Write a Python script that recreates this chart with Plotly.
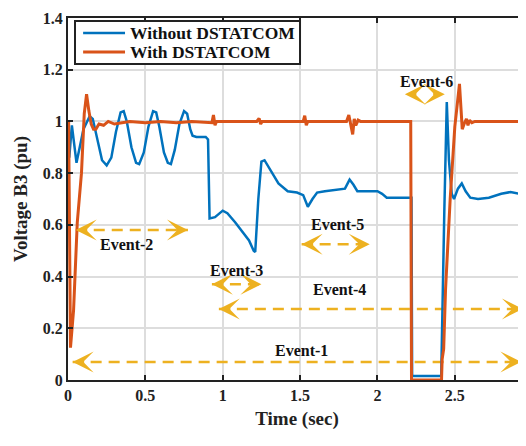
import plotly.graph_objects as go

# ---------------- data ----------------
t_without = [0.0, 0.008, 0.025, 0.055, 0.1, 0.14, 0.16, 0.19, 0.22, 0.25, 0.28, 0.31, 0.34, 0.36,
             0.38, 0.41, 0.44, 0.46, 0.49, 0.52, 0.55, 0.57, 0.59, 0.62, 0.645, 0.665, 0.69, 0.72,
             0.75, 0.77, 0.79, 0.805, 0.83, 0.89, 0.905, 0.915, 0.95, 1.0, 1.03, 1.08, 1.13, 1.17,
             1.2, 1.21, 1.23, 1.25, 1.27, 1.31, 1.36, 1.42, 1.48, 1.52, 1.55, 1.58, 1.61, 1.66,
             1.72, 1.79, 1.82, 1.845, 1.87, 2.0, 2.03, 2.06, 2.22, 2.224, 2.412, 2.42, 2.432,
             2.448, 2.462, 2.48, 2.495, 2.52, 2.545, 2.57, 2.6, 2.65, 2.72, 2.8, 2.86, 2.96]
v_without = [0.9, 0.86, 0.985, 0.84, 0.97, 1.02, 1.01, 0.93, 0.85, 0.83, 0.86, 0.96, 1.035, 1.04,
             1.0, 0.9, 0.84, 0.835, 0.88, 0.98, 1.04, 1.035, 0.98, 0.88, 0.84, 0.835, 0.89, 0.99,
             1.04, 1.03, 0.97, 0.945, 0.94, 0.94, 0.93, 0.625, 0.63, 0.655, 0.645, 0.61, 0.57, 0.54,
             0.5, 0.495, 0.7, 0.845, 0.85, 0.81, 0.76, 0.73, 0.725, 0.715, 0.67, 0.7, 0.725, 0.73,
             0.735, 0.74, 0.775, 0.755, 0.73, 0.73, 0.72, 0.705, 0.705, 0.015, 0.015, 0.35, 0.65,
             1.075, 0.85, 0.72, 0.7, 0.74, 0.76, 0.73, 0.705, 0.7, 0.705, 0.72, 0.727, 0.715]

t_with = [0.0, 0.004, 0.016, 0.036, 0.06, 0.087, 0.105, 0.12, 0.135, 0.15, 0.165, 0.18, 0.2,
          0.23, 0.26, 0.3, 0.4, 0.5, 0.6, 0.7, 0.8, 0.93, 0.94, 0.95, 0.96, 1.22, 1.235, 1.245,
          1.255, 1.52, 1.53, 1.54, 1.55, 1.8, 1.815, 1.83, 1.84, 1.85, 1.86, 1.875, 1.89, 2.215,
          2.22, 2.414, 2.418, 2.428, 2.44, 2.47, 2.5, 2.53, 2.548, 2.56, 2.575, 2.585, 2.595,
          2.61, 2.63, 2.96]
v_with = [1.0, 1.0, 0.125, 0.27, 0.61, 0.8, 1.03, 1.105, 1.04, 0.99, 0.97, 0.97, 0.99,
          0.985, 1.0, 0.99, 1.0, 0.995, 1.0, 0.995, 1.0, 0.995, 1.025, 0.985, 1.0, 1.0, 1.012, 0.99,
          1.0, 1.0, 1.022, 0.985, 1.0, 1.0, 1.025, 0.985, 0.95, 1.01, 0.985, 1.005, 1.0, 1.0,
          0.0, 0.0, 0.08, 0.12, 0.35, 0.7, 0.98, 1.145, 0.97, 0.99, 1.01, 0.985, 1.005,
          0.995, 1.0, 1.0]

series_names = ["Without DSTATCOM", "With DSTATCOM"]

event_labels = ["Event-1", "Event-2", "Event-3", "Event-4", "Event-5", "Event-6"]
event_start = [0.03, 0.05, 0.93, 0.975, 1.51, 2.177]
event_end = [2.93, 0.775, 1.25, 2.94, 1.95, 2.435]
event_level = [0.07, 0.58, 0.37, 0.275, 0.525, 1.105]
event_label_x = [1.51, 0.38, 1.09, 1.757, 1.743, 2.32]
event_label_y = [0.115, 0.523, 0.424, 0.351, 0.603, 1.156]

x_tick_vals = [0, 0.5, 1, 1.5, 2, 2.5]
x_tick_text = ["0", "0.5", "1", "1.5", "2", "2.5"]
y_tick_vals = [0, 0.2, 0.4, 0.6, 0.8, 1.0, 1.2, 1.4]
y_tick_text = ["0", "0.2", "0.4", "0.6", "0.8", "1", "1.2", "1.4"]

BLUE = "#0072BD"
ORANGE = "#D95319"
GOLD = "#EDB120"
FONT = "Liberation Serif"
colors = [BLUE, ORANGE]
widths = [2.5, 3]

fig = go.Figure()

# event dashed lines
for i in range(len(event_labels)):
    if event_end[i] - event_start[i] > 0.3:
        fig.add_trace(go.Scatter(
            x=[event_start[i], event_end[i]], y=[event_level[i], event_level[i]],
            mode="lines", line=dict(color=GOLD, width=2.5, dash="11px,7px"),
            showlegend=False, hoverinfo="skip"))

fig.add_trace(go.Scatter(x=t_without, y=v_without, mode="lines", name=series_names[0],
                         line=dict(color=BLUE, width=2.5), showlegend=False))
fig.add_trace(go.Scatter(x=t_with, y=v_with, mode="lines", name=series_names[1],
                         line=dict(color=ORANGE, width=3), showlegend=False))

# arrowheads + labels
for i in range(len(event_labels)):
    for tip, off in ((event_start[i], 13), (event_end[i], -13)):
        fig.add_annotation(x=tip, y=event_level[i], ax=off, ay=0, text="",
                           showarrow=True, arrowhead=3, arrowsize=1.4, arrowwidth=2.5,
                           arrowcolor=GOLD)
    fig.add_annotation(x=event_label_x[i], y=event_label_y[i], text=event_labels[i],
                       showarrow=False, font=dict(size=16, color="#111111",
                                                  family=FONT, weight="bold"))

# legend box (drawn in paper coordinates, MATLAB style)
fig.add_shape(type="rect", xref="paper", yref="paper", x0=0.0153, x1=0.5066,
              y0=0.873, y1=0.9917, line=dict(color="#222222", width=2),
              fillcolor="white", layer="above")
legend_rows = [0.9586, 0.906]
for k in range(2):
    fig.add_shape(type="line", xref="paper", yref="paper", x0=0.033, x1=0.1245,
                  y0=legend_rows[k], y1=legend_rows[k],
                  line=dict(color=colors[k], width=widths[k]), layer="above")
    fig.add_annotation(xref="paper", yref="paper", x=0.131, y=legend_rows[k],
                       xanchor="left", yanchor="middle", text=series_names[k],
                       showarrow=False,
                       font=dict(size=17.5, color="#111111", family=FONT, weight="bold"))

fig.update_layout(
    width=518, height=438,
    margin=dict(l=60, r=0, t=10, b=66, autoexpand=False),
    paper_bgcolor="white", plot_bgcolor="white",
    font=dict(family=FONT, size=16, color="#222222", weight="bold"),
    showlegend=False,
)
fig.update_xaxes(range=[0, 2.96], tickvals=x_tick_vals, ticktext=x_tick_text,
                 showgrid=True, gridcolor="#dddddd", gridwidth=1.5,
                 showline=True, linecolor="#222222", linewidth=2, mirror="ticks",
                 ticks="inside", ticklen=5, tickwidth=2, tickcolor="#222222",
                 zeroline=False, automargin=False,
                 title=dict(text="Time (sec)", standoff=8, font=dict(size=19)))
fig.update_yaxes(range=[0, 1.4], tickvals=y_tick_vals, ticktext=y_tick_text,
                 showgrid=True, gridcolor="#dddddd", gridwidth=1.5,
                 showline=True, linecolor="#222222", linewidth=2, mirror="ticks",
                 ticks="inside", ticklen=5, tickwidth=2, tickcolor="#222222",
                 zeroline=False, automargin=False, ticklabeloverflow="allow",
                 title=dict(text="Voltage B3 (pu)", standoff=10, font=dict(size=19)))

fig.write_html("out.html")
